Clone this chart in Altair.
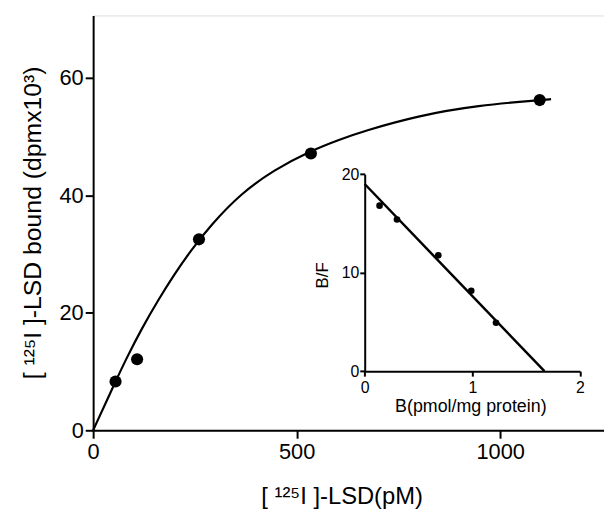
import altair as alt
import pandas as pd

# main saturation data
sat_x = [55, 108, 260, 535, 1097]
sat_y = [8.3, 12.1, 32.5, 47.1, 56.2]
curve_x = [0, 55, 80, 120, 160, 200, 240, 290, 363, 444, 535, 606, 663, 801, 946, 1097, 1125]
curve_y = [0, 8.3, 12.0, 17.4, 22.2, 26.6, 30.6, 35.0, 40.3, 44.3, 47.6, 49.5, 50.9, 53.6, 55.3, 56.2, 56.35]
# Scatchard inset
sc_x = [0.138, 0.30, 0.684, 0.99, 1.22]
sc_y = [16.8, 15.4, 11.76, 8.17, 4.92]
fit_x = [0, 1.67]
fit_y = [19.0, 0]
inset_x_ticks = [0, 1, 2]
inset_y_ticks = [0, 10, 20]

W, H = 516, 419
FONT = "Liberation Sans"

sat_df = pd.DataFrame({"x": sat_x, "y": sat_y})
curve_df = pd.DataFrame({"x": curve_x, "y": curve_y})
sc_df = pd.DataFrame({"x": sc_x, "y": sc_y})
fit_df = pd.DataFrame({"x": fit_x, "y": fit_y})

common = dict(grid=False, domainColor="black", tickColor="black", labelColor="black",
              titleColor="black", titleFontWeight="normal", domainWidth=2, tickWidth=2,
              labelFont=FONT, titleFont=FONT, labelOverlap=False)

mx = alt.Scale(domain=[0, 1255], nice=False, zero=False)
my = alt.Scale(domain=[0, 70.6], nice=False, zero=False)

main_x_axis = alt.Axis(values=[0, 500, 1000], tickSize=8, labelFontSize=22, labelPadding=4,
                       format="d", labelFlush=False,
                       title="[ ¹²⁵I ]-LSD(pM)", titleFontSize=24, titleX=251, titleY=67,
                       titleBaseline="middle", titleAlign="center", orient="bottom", **common)
main_y_axis = alt.Axis(values=[0, 20, 40, 60], tickSize=8, labelFontSize=22, labelPadding=2,
                       format="d",
                       title="[ ¹²⁵I ]-LSD bound (dpmx10³)", titleFontSize=25, titleX=-61,
                       titleY=209, titleAngle=-90, titleBaseline="middle", titleAlign="center",
                       orient="left", **common)

curve = alt.Chart(curve_df).mark_line(color="black", strokeWidth=2.2, interpolate="basis").encode(
    x=alt.X("x:Q", scale=mx, axis=main_x_axis),
    y=alt.Y("y:Q", scale=my, axis=main_y_axis),
)
pts = alt.Chart(sat_df).mark_circle(color="black", size=150, opacity=1).encode(
    x=alt.X("x:Q", scale=mx, axis=main_x_axis),
    y=alt.Y("y:Q", scale=my, axis=main_y_axis),
)
main = alt.layer(curve, pts)

ix = alt.Scale(domain=[0, 2], range=[274.3, 491.7], nice=False, zero=False)
iy = alt.Scale(domain=[0, 20], range=[359.3, 160.3], nice=False, zero=False)

in_x_axis = alt.Axis(values=inset_x_ticks, tickSize=5, labelFontSize=16, labelPadding=4,
                     labelExpr="format(datum.value, '.0f')", labelFlush=False,
                     title="B(pmol/mg protein)", titleFontSize=18, titleX=381, titleY=36,
                     titleBaseline="middle", titleAlign="center", orient="bottom",
                     offset=-59.7, **common)
in_y_axis = alt.Axis(values=inset_y_ticks, tickSize=5, labelFontSize=16, labelPadding=1,
                     labelExpr="format(datum.value, '.0f')",
                     title="B/F", titleFontSize=17, titleX=-43, titleY=262, titleAngle=-90,
                     titleBaseline="middle", titleAlign="center", orient="left",
                     offset=-274.3, **common)

fit = alt.Chart(fit_df).mark_line(color="black", strokeWidth=2.5).encode(
    x=alt.X("x:Q", scale=ix, axis=in_x_axis),
    y=alt.Y("y:Q", scale=iy, axis=in_y_axis),
)
scpts = alt.Chart(sc_df).mark_circle(color="black", size=45, opacity=1).encode(
    x=alt.X("x:Q", scale=ix, axis=in_x_axis),
    y=alt.Y("y:Q", scale=iy, axis=in_y_axis),
)
inset = alt.layer(fit, scpts)

chart = alt.layer(main, inset).resolve_scale(x="independent", y="independent").resolve_axis(
    x="independent", y="independent"
).properties(
    width=W, height=H,
    padding={"left": 86, "top": 5, "right": 0, "bottom": 80},
    autosize=alt.AutoSizeParams(type="none"),
).configure_view(stroke=None).configure(font=FONT, background="white")

chart.save("out.html", embed_options={"renderer": "svg", "actions": False})
